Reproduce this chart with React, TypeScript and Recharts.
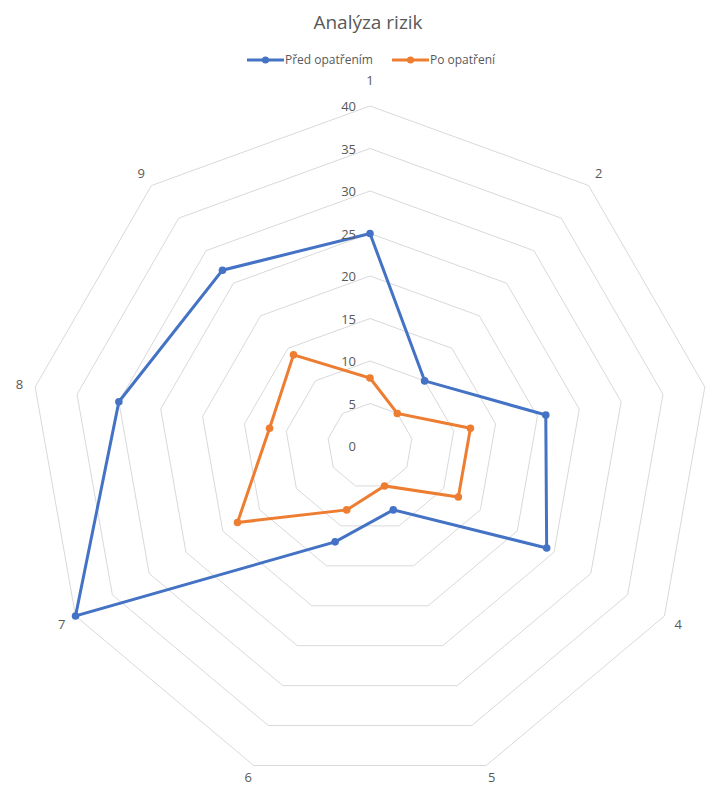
import React from 'react';
import { RadarChart, Radar, PolarGrid, PolarAngleAxis, PolarRadiusAxis } from 'recharts';

const chartTitle = 'Analýza rizik';
const categories = ['1', '2', '3', '4', '5', '6', '7', '8', '9'];
const beforeValues = [25, 10, 21, 24, 8, 12, 40, 30, 27];
const afterValues = [8, 5, 12, 12, 5, 8, 18, 12, 14];
const radiusTicks = [0, 5, 10, 15, 20, 25, 30, 35, 40];
const seriesNames = ['Před opatřením', 'Po opatření'];
const seriesColors = ['#4472C4', '#ED7D31'];

const data = categories.map((c, i) => ({ cat: c, before: beforeValues[i], after: afterValues[i] }));

const CHART_W = 717;
const CHART_H = 787;
const FONT = '"Open Sans", "Liberation Sans", sans-serif';
const TEXT = '#595959';

const RadiusTick = (props: any) => {
  const { x, y, payload } = props;
  return (
    <text x={x - 14} y={y} textAnchor="end" dominantBaseline="central" fill={TEXT} fontSize={13} fontFamily={FONT}>
      {payload.value}
    </text>
  );
};

const AngleTick = (props: any) => {
  const { x, y, payload } = props;
  // Labels that would fall outside the canvas are dropped (as in the original)
  if (x + 6 > CHART_W) return <g />;
  const isTop = Math.abs(((payload.coordinate % 360) + 360) % 360 - 90) < 1;
  let ty = isTop ? y - 10 : y;
  if (ty > CHART_H - 10) ty = CHART_H - 10;
  return (
    <text x={x} y={ty} textAnchor="middle" dominantBaseline="central" fill={TEXT} fontSize={13} fontFamily={FONT}>
      {payload.value}
    </text>
  );
};

const makeDot = (color: string) => (props: any) => {
  const { cx, cy, index } = props;
  return <circle key={`d-${index}`} cx={cx} cy={cy} r={3.8} fill={color} stroke="none" />;
};

const LegendItem = ({ name, color }: { name: string; color: string }) => (
  <div style={{ display: 'flex', alignItems: 'center' }}>
    <svg width={37} height={10} style={{ display: 'block' }}>
      <line x1={0} y1={5} x2={37} y2={5} stroke={color} strokeWidth={3} />
      <circle cx={18.5} cy={5} r={3.5} fill={color} />
    </svg>
    <span style={{ fontSize: 12, color: TEXT, fontFamily: FONT, lineHeight: '14px', marginLeft: 1 }}>{name}</span>
  </div>
);

export default function App() {
  return (
    <div style={{ position: 'absolute', left: 0, top: 0, width: CHART_W, height: CHART_H, background: '#fff' }}>
      <RadarChart
        width={CHART_W}
        height={CHART_H}
        data={data}
        cx={370}
        cy={446}
        outerRadius={340}
        margin={{ top: 0, right: 0, bottom: 0, left: 0 }}
      >
        <PolarGrid gridType="polygon" radialLines={false} stroke="#D9D9D9" strokeWidth={1} />
        <PolarAngleAxis dataKey="cat" tick={<AngleTick />} tickLine={false} axisLine={false} tickSize={16} />
        <PolarRadiusAxis
          angle={90}
          domain={[0, 40]}
          ticks={radiusTicks as any}
          tickCount={9}
          axisLine={false}
          tickLine={false}
          tick={<RadiusTick />}
        />
        <Radar
          name={seriesNames[0]}
          dataKey="before"
          stroke={seriesColors[0]}
          strokeWidth={3}
          fill="none"
          fillOpacity={0}
          dot={makeDot(seriesColors[0])}
          isAnimationActive={false}
        />
        <Radar
          name={seriesNames[1]}
          dataKey="after"
          stroke={seriesColors[1]}
          strokeWidth={3}
          fill="none"
          fillOpacity={0}
          dot={makeDot(seriesColors[1])}
          isAnimationActive={false}
        />
      </RadarChart>
      <div
        style={{
          position: 'absolute',
          left: 368,
          top: 7,
          transform: 'translateX(-50%)',
          whiteSpace: 'nowrap',
          fontSize: 19,
          color: TEXT,
          fontFamily: FONT,
          lineHeight: '30px',
        }}
      >
        {chartTitle}
      </div>
      <div
        style={{
          position: 'absolute',
          left: 371,
          top: 53,
          transform: 'translateX(-50%)',
          display: 'flex',
          gap: 19,
          whiteSpace: 'nowrap',
        }}
      >
        {seriesNames.map((n, i) => (
          <LegendItem key={n} name={n} color={seriesColors[i]} />
        ))}
      </div>
    </div>
  );
}
